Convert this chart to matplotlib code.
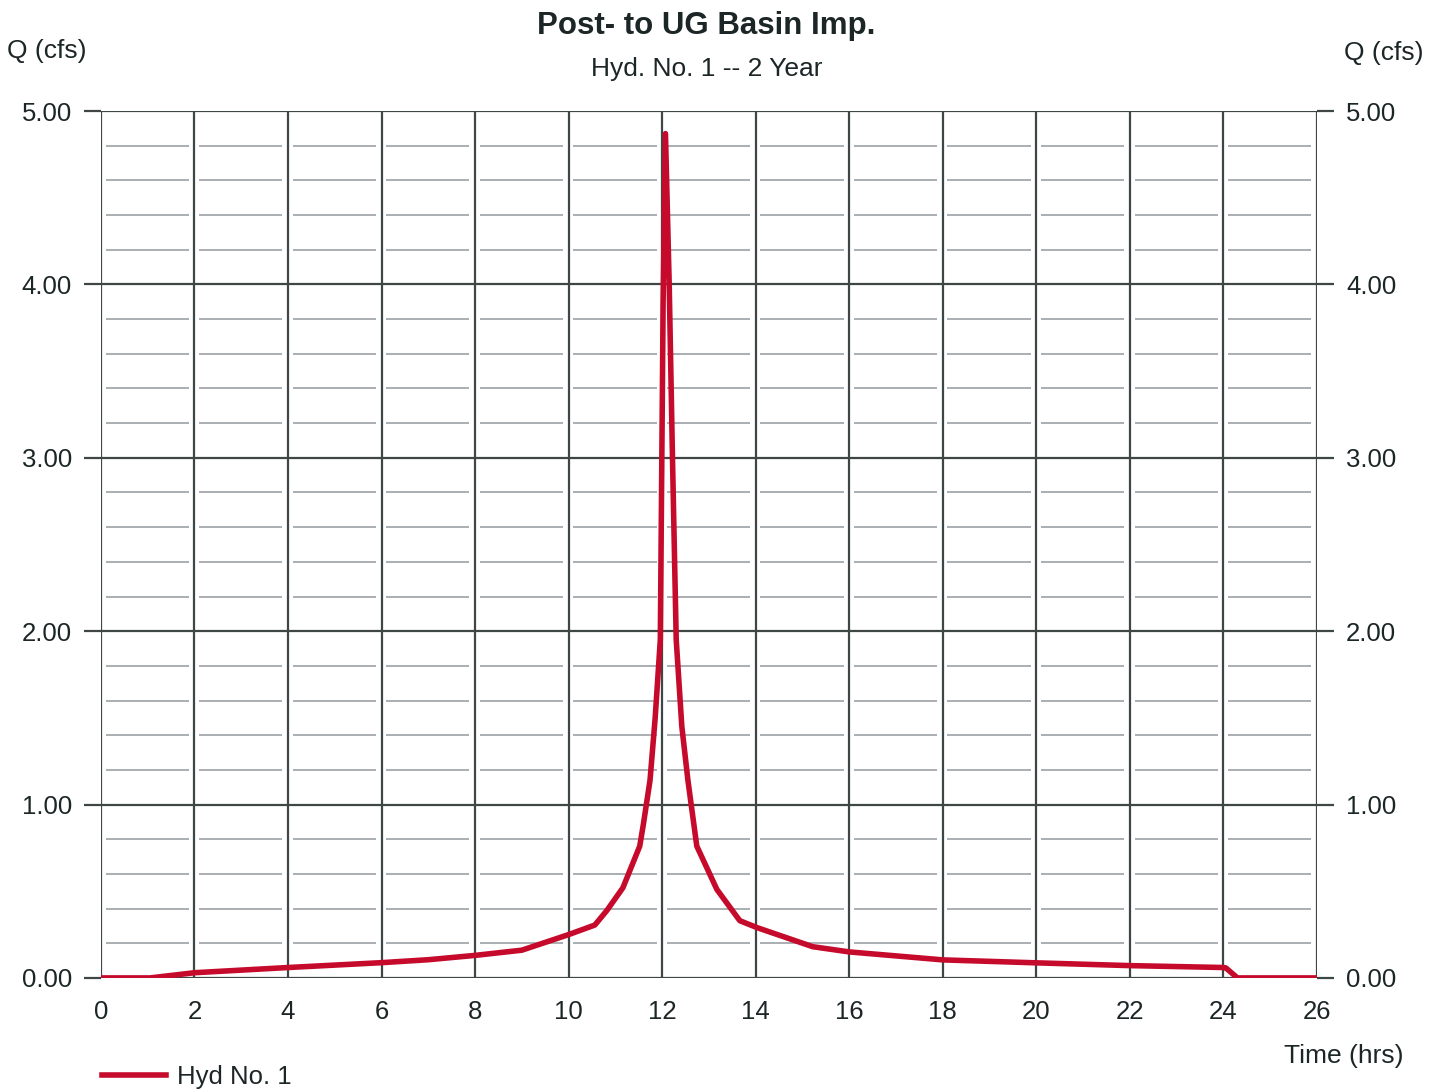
from matplotlib import pyplot as plt
from matplotlib.lines import Line2D
import numpy as np

# hydrograph ordinates, time in hrs and flow in cfs
time_hrs = [0.0, 1.05, 2.0, 4.0, 6.0, 7.0, 8.0, 9.0, 10.0, 10.56, 10.82, 11.16,
            11.52, 11.6, 11.74, 11.85, 11.96, 12.02, 12.07, 12.15, 12.22, 12.3,
            12.42, 12.55, 12.74, 13.17, 13.66, 14.03, 15.22, 16.0, 18.0, 20.0,
            22.0, 24.0, 24.05, 24.3, 26.0]
flow_cfs = [0.0, 0.0, 0.03, 0.06, 0.088, 0.105, 0.13, 0.16, 0.25, 0.305, 0.39, 0.52,
            0.76, 0.89, 1.14, 1.5, 1.95, 3.9, 4.87, 4.0, 3.0, 1.95,
            1.45, 1.14, 0.76, 0.51, 0.33, 0.29, 0.18, 0.15, 0.104, 0.087,
            0.071, 0.06, 0.058, 0.0, 0.0]

x_ticks = list(range(0, 27, 2))
y_ticks = [0.0, 1.0, 2.0, 3.0, 4.0, 5.0]

title = "Post- to UG Basin Imp."
subtitle = "Hyd. No. 1 -- 2 Year"
series_name = "Hyd No. 1"

plt.rcParams['font.family'] = ['Liberation Sans', 'DejaVu Sans']
text_color = "#1c2626"
major_color = "#3e4646"
minor_color = "#a9aeb3"
line_color = "#c50a2c"

fig = plt.figure(figsize=(14.42, 10.89), dpi=100)
ax = fig.add_axes([0.070, 0.102, 0.8433, 0.796])
ax.set_xlim(0, 26)
ax.set_ylim(0, 5)

# minor horizontal lines, broken at each vertical gridline
for yv in np.arange(0.2, 5.0, 0.2):
    if abs(yv - round(yv)) < 1e-6:
        continue
    for x0 in x_ticks[:-1]:
        ax.hlines(yv, x0 + 0.1, x0 + 1.88, color=minor_color, lw=1.4, zorder=1)

for xv in x_ticks:
    ax.axvline(xv, color=major_color, lw=1.6, zorder=2)
for yv in y_ticks:
    ax.axhline(yv, color=major_color, lw=1.6, zorder=2)

for side in ax.spines.values():
    side.set_visible(False)

ax.plot(time_hrs, flow_cfs, color=line_color, lw=4.0, zorder=5,
        solid_joinstyle='round', solid_capstyle='round')

ax.set_xticks(x_ticks)
ax.set_xticklabels([str(v) for v in x_ticks])
ax.set_yticks(y_ticks)
ax.set_yticklabels([f"{v:.2f}" for v in y_ticks])
ax.tick_params(axis='x', length=0, pad=16, labelsize=18.5, labelcolor=text_color)
ax.tick_params(axis='y', length=12, width=1.6, color=major_color, pad=9,
               labelsize=18.5, labelcolor=text_color, right=True, labelright=True)

fig.text(0.49, 0.976, title, ha='center', va='center', fontsize=22.5,
         fontweight='bold', color=text_color)
fig.text(0.49, 0.937, subtitle, ha='center', va='center', fontsize=19,
         color=text_color)
fig.text(0.005, 0.953, "Q (cfs)", ha='left', va='center', fontsize=19,
         color=text_color)
fig.text(0.987, 0.951, "Q (cfs)", ha='right', va='center', fontsize=19,
         color=text_color)
fig.text(0.973, 0.030, "Time (hrs)", ha='right', va='center', fontsize=19,
         color=text_color)

fig.add_artist(Line2D([0.071, 0.115], [0.013, 0.013], color=line_color, lw=4.0))
fig.text(0.123, 0.011, series_name, ha='left', va='center', fontsize=18.5,
         color=text_color)

fig.savefig("out.png", dpi=100, facecolor="white")
